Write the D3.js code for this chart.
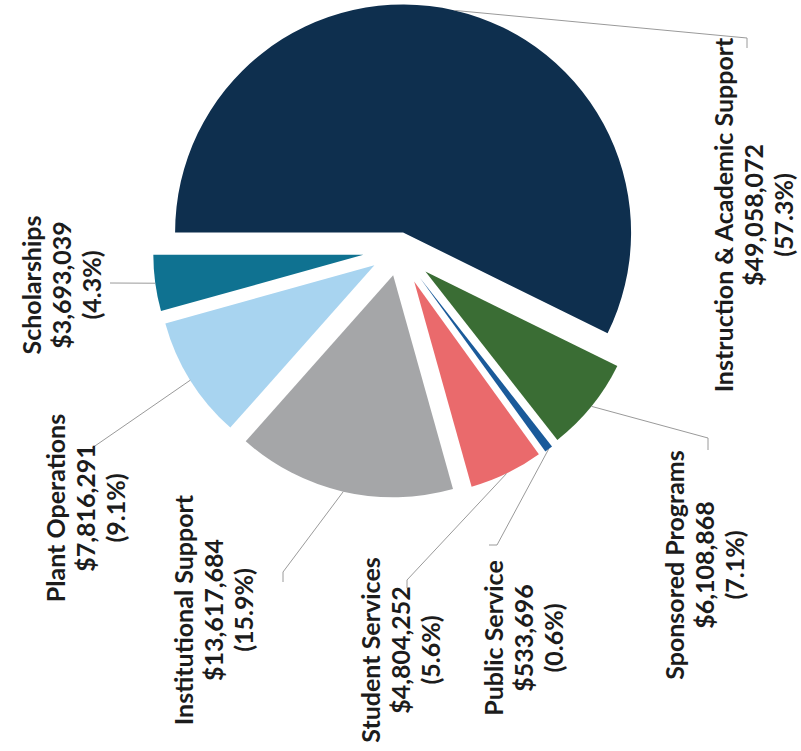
<!DOCTYPE html>
<html>
<head>
<meta charset="utf-8">
<script src="https://cdn.jsdelivr.net/npm/d3@7"></script>
<style>
  body { margin: 0; background: #fff; }
  svg { display: block; }
</style>
</head>
<body>
<svg id="pie" width="801" height="751"></svg>
<script>
// budget categories, in pie order (clockwise from the flat left edge)
const categories = [
    "Instruction & Academic Support",
    "Sponsored Programs",
    "Public Service",
    "Student Services",
    "Institutional Support",
    "Plant Operations",
    "Scholarships"
];
const amounts = [49058072, 6108868, 533696, 4804252, 13617684, 7816291, 3693039];
const colors = ["#0e2f4e", "#3a6d34", "#1a5a9a", "#ea6a6c", "#a5a6a8", "#a8d4f0", "#0f7291"];

// layout of the scanned chart (it is turned a quarter turn)
const center = [399, 250];
const explode = [18, 34, 35, 35, 26, 29, 36];
const radius = [228, 214, 214, 213, 222, 217, 210];
// label block centre and the leader path after it leaves the slice
const labelPos = [
    { x: 754, y: 215, leader: [[747, 38], [747, 48]] },
    { x: 705, y: 565, leader: [[708, 438], [708, 450]] },
    { x: 524, y: 638, leader: [[497, 545], [489, 545]] },
    { x: 401, y: 650, leader: [[407, 580], [407, 588]] },
    { x: 214, y: 610, leader: [[283, 572], [283, 582]] },
    { x: 86, y: 508, leader: [[92, 448]] },
    { x: 62, y: 285, leader: [[110, 283]] }
];

const data = categories.map((name, i) => ({ name, value: amounts[i], i }));
const total = d3.sum(amounts);
const fmtMoney = d3.format("$,");
const fmtPct = d3.format(".1%");

const pie = d3.pie()
    .sort(null)
    .value(d => d.value)
    .startAngle(1.5 * Math.PI)
    .endAngle(3.5 * Math.PI);

const arcs = pie(data);

const svg = d3.select("#pie");

const mid = d => (d.startAngle + d.endAngle) / 2;
const offset = d => {
    const a = mid(d), e = explode[d.data.i];
    return [center[0] + e * Math.sin(a), center[1] - e * Math.cos(a)];
};

svg.append("g")
    .selectAll("path")
    .data(arcs)
    .join("path")
    .attr("transform", d => `translate(${offset(d)})`)
    .attr("d", d => d3.arc().innerRadius(0).outerRadius(radius[d.data.i])(d))
    .attr("fill", d => colors[d.data.i]);

// leader lines
const line = d3.line();
svg.append("g")
    .attr("fill", "none")
    .attr("stroke", "#9a9a9a")
    .attr("stroke-width", 1)
    .selectAll("path")
    .data(arcs)
    .join("path")
    .attr("d", d => {
        const o = offset(d), a = mid(d), r = radius[d.data.i];
        const start = [o[0] + r * Math.sin(a), o[1] - r * Math.cos(a)];
        return line([start, ...labelPos[d.data.i].leader]);
    });

// labels, turned to read upwards
const lineH = 30;
svg.append("g")
    .attr("font-family", "Lato, 'Open Sans', sans-serif")
    .attr("font-weight", 700)
    .attr("font-size", 25)
    .attr("fill", "#1c1c1c")
    .attr("text-anchor", "middle")
    .selectAll("g")
    .data(arcs)
    .join("g")
    .attr("transform", d => `translate(${labelPos[d.data.i].x},${labelPos[d.data.i].y}) rotate(-90)`)
    .selectAll("text")
    .data(d => [d.data.name, fmtMoney(d.data.value), `(${fmtPct(d.data.value / total)})`])
    .join("text")
    .attr("y", (t, j) => (j - 1) * lineH)
    .attr("dy", "0.35em")
    .text(t => t);
</script>
</body>
</html>
